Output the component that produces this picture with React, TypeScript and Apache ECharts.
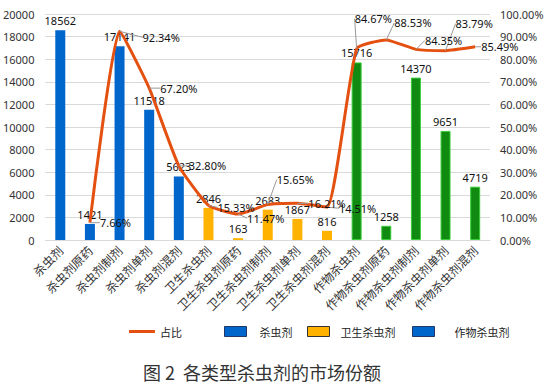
import React, { useEffect, useRef } from "react";
import * as echarts from "echarts";

const categories = [
  "杀虫剂", "杀虫剂原药", "杀虫剂制剂", "杀虫剂单剂", "杀虫剂混剂",
  "卫生杀虫剂", "卫生杀虫剂原药", "卫生杀虫剂制剂", "卫生杀虫剂单剂", "卫生杀虫剂混剂",
  "作物杀虫剂", "作物杀虫剂原药", "作物杀虫剂制剂", "作物杀虫剂单剂", "作物杀虫剂混剂",
];
const insecticide = [18562, 1421, 17141, 11518, 5623, null, null, null, null, null, null, null, null, null, null];
const hygiene = [null, null, null, null, null, 2846, 163, 2683, 1867, 816, null, null, null, null, null];
const crop = [null, null, null, null, null, null, null, null, null, null, 15716, 1258, 14370, 9651, 4719];
const share = [null, 7.66, 92.34, 67.2, 32.8, 15.33, 11.47, 15.65, 16.21, 14.51, 84.67, 88.53, 84.35, 83.79, 85.49];
const leftTicks = [0, 20000, 2000];
const rightTicks = [0, 100, 10];

const shareLabelOffsets: Record<number, [number, number]> = {
  1: [5, 0], 2: [18, 6], 3: [6, 0], 4: [5, 0], 5: [4, 2], 6: [4, 4],
  7: [4, -25], 8: [6, 0], 9: [7, 1], 10: [-7, -30], 11: [3, -17],
  12: [4, -9], 13: [5, -27], 14: [1, 0],
};

const FONT = "'Noto Sans', 'Noto Sans CJK SC', sans-serif";
const CJK = "'Noto Sans CJK SC', sans-serif";

export default function App() {
  const ref = useRef<HTMLDivElement>(null);
  useEffect(() => {
    const chart = echarts.init(ref.current!, null, { renderer: "svg" });
    const barLabel = {
      show: true, position: "top", distance: 4, color: "#111",
      fontSize: 11, fontFamily: FONT,
    };
    chart.setOption({
      animation: false,
      title: {
        text: "图 2  各类型杀虫剂的市场份额", left: 143, top: 362,
        textStyle: { fontSize: 18, lineHeight: 20, fontWeight: "normal", color: "#333", fontFamily: CJK },
        padding: 0,
      },
      grid: { left: 45, right: 67, top: 14, bottom: 145 },
      legend: [
        { data: ["占比"], left: 129, top: 326, padding: 0, icon: "rect", itemWidth: 26, itemHeight: 3,
          itemStyle: { color: "#E4500F" },
          textStyle: { fontSize: 11, color: "#222", fontFamily: CJK } },
        { data: ["杀虫剂"], left: 224, top: 326, padding: 0, icon: "rect", itemWidth: 22, itemHeight: 10,
          itemStyle: { borderColor: "#1f3864", borderWidth: 1 },
          textStyle: { fontSize: 11, color: "#222", fontFamily: CJK, padding: [0, 0, 0, 8] } },
        { data: ["卫生杀虫剂"], left: 307, top: 326, padding: 0, icon: "rect", itemWidth: 22, itemHeight: 10,
          itemStyle: { borderColor: "#333", borderWidth: 1 },
          textStyle: { fontSize: 11, color: "#222", fontFamily: CJK, padding: [0, 0, 0, 6] } },
        { data: ["作物杀虫剂"], left: 412, top: 326, padding: 0, icon: "rect", itemWidth: 22, itemHeight: 10,
          itemStyle: { color: "#0066CC", borderColor: "#1f3864", borderWidth: 1 },
          textStyle: { fontSize: 11, color: "#222", fontFamily: CJK, padding: [0, 0, 0, 15] } },
      ],
      xAxis: {
        type: "category", data: categories,
        axisLine: { lineStyle: { color: "#d9d9d9" } },
        axisTick: { show: false },
        axisLabel: { rotate: 45, interval: 0, margin: 8, fontSize: 12, color: "#333", fontFamily: CJK },
      },
      yAxis: [
        { type: "value", min: leftTicks[0], max: leftTicks[1], interval: leftTicks[2],
          axisLine: { show: false }, axisTick: { show: false },
          axisLabel: { fontSize: 11, color: "#333", margin: 11, fontFamily: FONT,
            formatter: (v: number) => String(v) },
          splitLine: { lineStyle: { color: "#d9d9d9" } } },
        { type: "value", min: rightTicks[0], max: rightTicks[1], interval: rightTicks[2],
          axisLine: { show: false }, axisTick: { show: false },
          axisLabel: { fontSize: 11, color: "#333", margin: 10, fontFamily: FONT,
            formatter: (v: number) => v.toFixed(2) + "%" },
          splitLine: { show: false } },
      ],
      series: [
        { name: "杀虫剂", type: "bar", stack: "t", barWidth: 10, data: insecticide,
          itemStyle: { color: "#0066CC" }, label: barLabel },
        { name: "卫生杀虫剂", type: "bar", stack: "t", barWidth: 10, data: hygiene,
          itemStyle: { color: "#FFB300" }, label: barLabel },
        { name: "作物杀虫剂", type: "bar", stack: "t", barWidth: 10, data: crop,
          itemStyle: { color: "#118A11", borderColor: "#3ACD3A", borderWidth: 1 }, label: barLabel },
        { name: "占比", type: "line", yAxisIndex: 1, smooth: 0.15, symbol: "circle", symbolSize: 0,
          showSymbol: true,
          lineStyle: { color: "#E4500F", width: 3 }, itemStyle: { color: "#E4500F" },
          data: share,
          label: { show: true, position: "right", distance: 5, fontSize: 11, color: "#111", opacity: 1,
            fontFamily: FONT, formatter: (p: any) => Number(p.value).toFixed(2) + "%" },
          labelLine: { show: true, lineStyle: { color: "#999", width: 1 } },
          labelLayout: (p: any) => {
            const o = shareLabelOffsets[p.dataIndex] || [0, 0];
            return { dx: o[0], dy: o[1], hideOverlap: false };
          },
          z: 5 },
      ],
    });
    return () => chart.dispose();
  }, []);
  return <div ref={ref} style={{ position: "fixed", left: 0, top: 0, width: 557, height: 385, background: "#fff" }} />;
}
